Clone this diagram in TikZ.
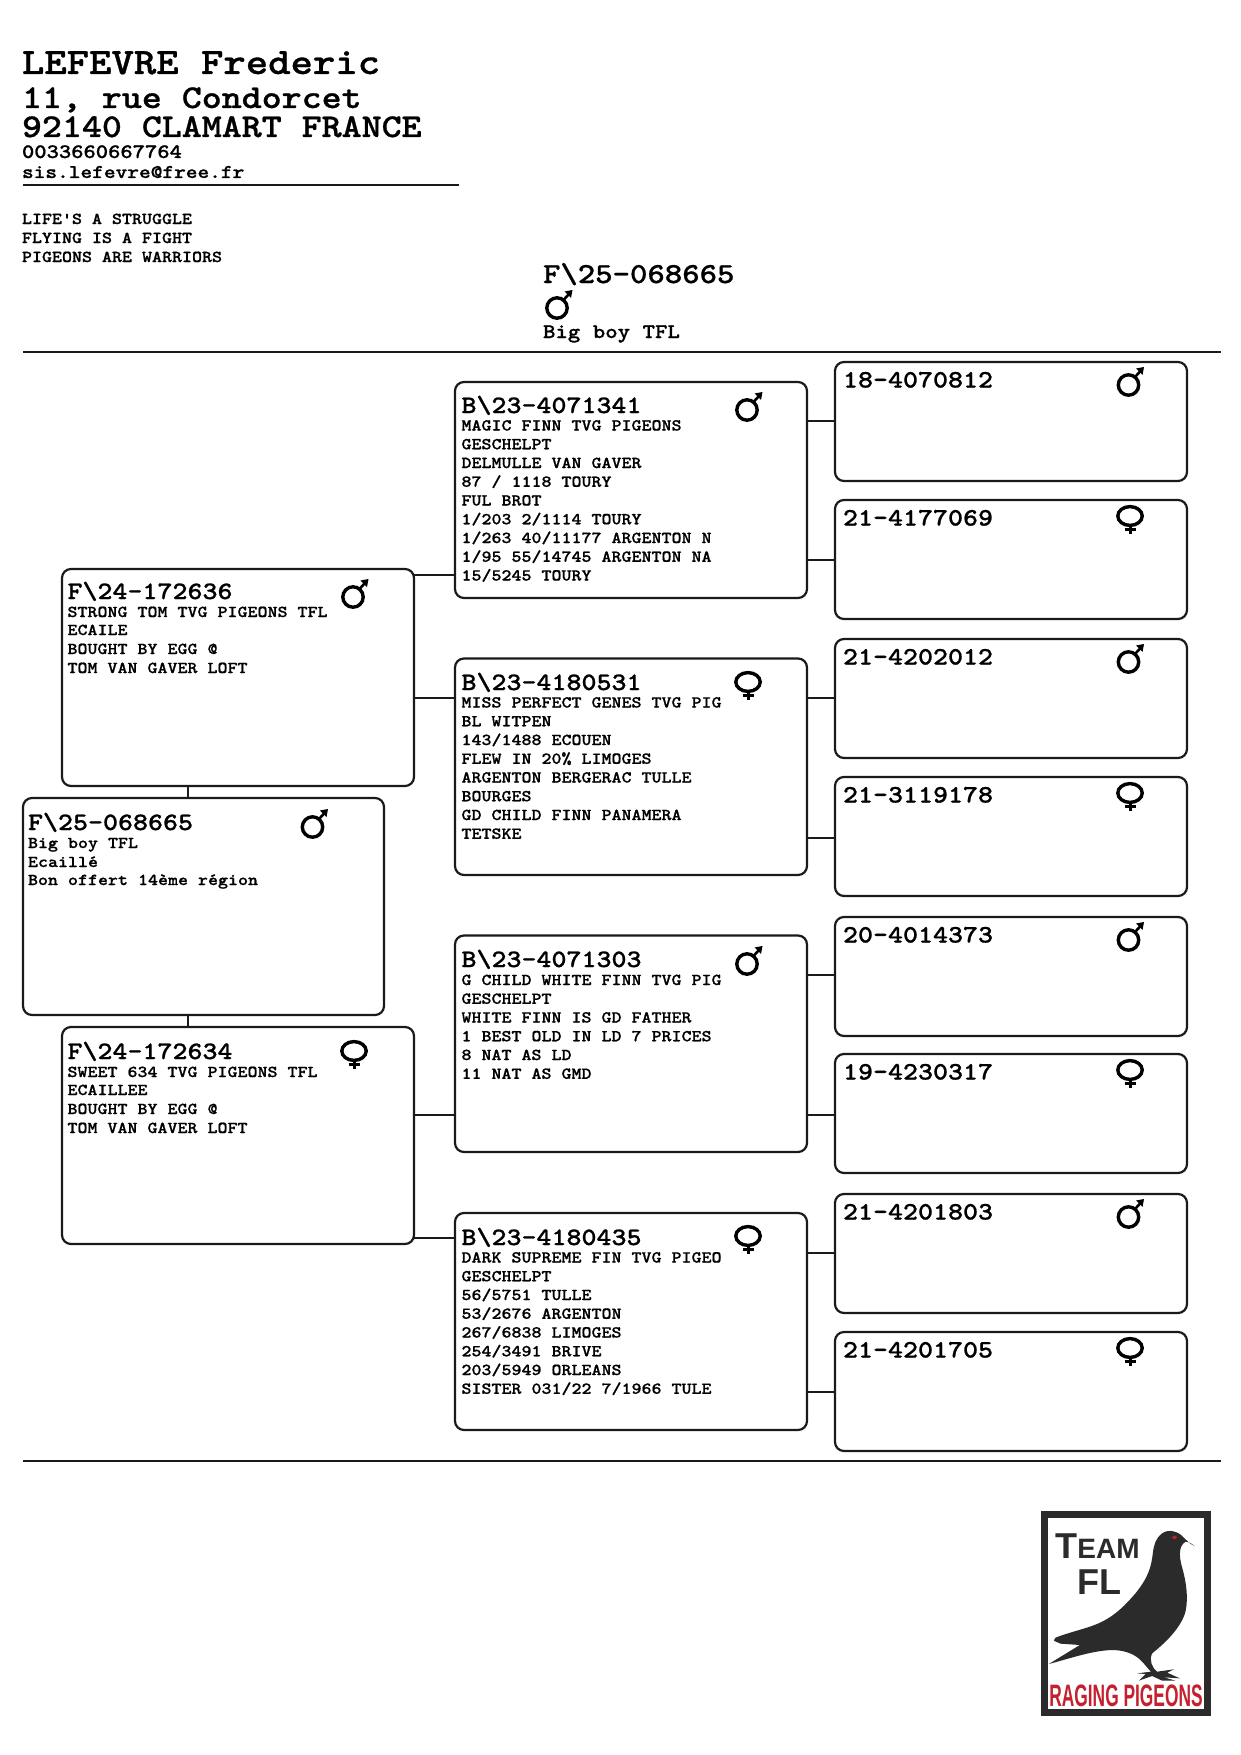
\documentclass[tikz,border=0pt]{standalone}
\usepackage{graphicx}
\usetikzlibrary{calc}
\definecolor{ink}{HTML}{1A1A1A}
\definecolor{logoink}{HTML}{2B2B2B}
\definecolor{logored}{HTML}{C4202E}
\usepackage{fontspec}
\setmainfont{Liberation Sans}
\newfontfamily\pedfont{lmmono10-regular}[Extension=.otf,BoldFont=lmmonolt10-bold,FakeStretch=1.143,BoldFeatures={FakeBold=0.8}]
\newcommand{\fsz}[1]{\fontsize{#1}{#1}\selectfont}
\tikzset{
 box/.style={draw=ink,line width=2.2pt,rounded corners=9pt},
 link/.style={draw=ink,line width=2.2pt},
 rulel/.style={draw=ink,line width=2.4pt},
 txt/.style={anchor=base west,inner sep=0pt,outer sep=0pt,text=black,font=\pedfont\bfseries\fsz{16.67}},
 idtxt/.style={anchor=base west,inner sep=0pt,outer sep=0pt,text=black,font=\pedfont\bfseries\fsz{25}},
 male/.pic={
  \draw[line width=3.4pt,draw=black] (0,0) circle (10.2);
  \draw[line width=2.6pt,draw=black] (6.5,-8) -- (12,-14);
  \fill[black] (15.5,-18) -- (7.5,-16.5) -- (14,-10) -- cycle;
 },
 female/.pic={
  \draw[line width=3.4pt,draw=black] (0,0) ellipse (12.2 and 9.4);
  \draw[line width=3pt,draw=black] (0,9) -- (0,18);
  \draw[line width=2.6pt,draw=black] (-5.5,13.5) -- (5.5,13.5);
 }
}
\begin{document}
\begin{tikzpicture}[x=1pt,y=-1pt]
\useasboundingbox (0,0) rectangle (1241,1755);
\fill[white] (0,0) rectangle (1241,1755);
% header
\node[txt,font=\pedfont\bfseries\fsz{37.3}] (h1) at (22,74) {LEFEVRE Frederic};
\node[txt,font=\pedfont\bfseries\fsz{33.3}] (h2) at (22,108) {11, rue Condorcet};
\node[txt,font=\pedfont\bfseries\fsz{33.3}] (h3) at (22,137) {92140 CLAMART FRANCE};
\node[txt,font=\pedfont\bfseries\fsz{20.5}] (h4) at (22,158) {0033660667764};
\node[txt,font=\pedfont\bfseries\fsz{19.5}] (h5) at (22,178) {sis.lefevre@free.fr};
\draw[rulel] (23,185) -- (459,185);
\node[txt] (m1) at (22,224) {LIFE'S A STRUGGLE};
\node[txt] (m2) at (22,243) {FLYING IS A FIGHT};
\node[txt] (m3) at (22,262) {PIGEONS ARE WARRIORS};
\node[idtxt,font=\pedfont\bfseries\fsz{29}] (t1) at (543,283) {F\textbackslash25-068665};
\pic at (557,308) {male};
\node[txt,font=\pedfont\bfseries\fsz{20.75}] (t2) at (543,338) {Big boy TFL};
\draw[rulel] (23,352) -- (1221,352);
\draw[rulel] (23,1461) -- (1221,1461);
% boxes
\draw[box] (23,798) rectangle (384,1015);
\node[idtxt] at (28,830) {F\textbackslash25-068665};
\pic at (312.5,827) {male};
\node[txt] at (28,848) {Big boy TFL};
\node[txt] at (28,867) {Ecaillé};
\node[txt] at (28,885) {Bon offert 14ème région};
\draw[box] (62,569) rectangle (414,786);
\node[idtxt] at (67.5,599) {F\textbackslash24-172636};
\pic at (353,597) {male};
\node[txt] at (67.5,617) {STRONG TOM TVG PIGEONS TFL};
\node[txt] at (67.5,635) {ECAILE};
\node[txt] at (67.5,654) {BOUGHT BY EGG @};
\node[txt] at (67.5,673) {TOM VAN GAVER LOFT};
\draw[box] (62,1027) rectangle (414,1244);
\node[idtxt] at (67.5,1059) {F\textbackslash24-172634};
\pic at (354,1051) {female};
\node[txt] at (67.5,1077) {SWEET 634 TVG PIGEONS TFL};
\node[txt] at (67.5,1095) {ECAILLEE};
\node[txt] at (67.5,1114) {BOUGHT BY EGG @};
\node[txt] at (67.5,1133) {TOM VAN GAVER LOFT};
\draw[box] (455,382) rectangle (807,598);
\node[idtxt] at (461.5,413) {B\textbackslash23-4071341};
\pic at (747,410) {male};
\foreach \t [count=\i from 0] in {MAGIC FINN TVG PIGEONS,GESCHELPT,DELMULLE VAN GAVER,87 / 1118 TOURY,FUL BROT,1/203 2/1114 TOURY,1/263 40/11177 ARGENTON N,1/95 55/14745 ARGENTON NA,15/5245 TOURY}
  \node[txt] at (461.5,{430.5+18.75*\i}) {\t};
\draw[box] (455,658.5) rectangle (807,875);
\node[idtxt] at (461.5,690) {B\textbackslash23-4180531};
\pic at (748,682) {female};
\foreach \t [count=\i from 0] in {MISS PERFECT GENES TVG PIG,BL WITPEN,143/1488 ECOUEN,FLEW IN 20\% LIMOGES,ARGENTON BERGERAC TULLE,BOURGES,GD CHILD FINN PANAMERA,TETSKE}
  \node[txt] at (461.5,{707.5+18.75*\i}) {\t};
\draw[box] (455,935.5) rectangle (807,1152);
\node[idtxt] at (461.5,967) {B\textbackslash23-4071303};
\pic at (747,964) {male};
\foreach \t [count=\i from 0] in {G CHILD WHITE FINN TVG PIG,GESCHELPT,WHITE FINN IS GD FATHER,1 BEST OLD IN LD 7 PRICES,8 NAT AS LD,11 NAT AS GMD}
  \node[txt] at (461.5,{985+18.75*\i}) {\t};
\draw[box] (455,1213) rectangle (807,1430);
\node[idtxt] at (461.5,1245) {B\textbackslash23-4180435};
\pic at (748,1236) {female};
\foreach \t [count=\i from 0] in {DARK SUPREME FIN TVG PIGEO,GESCHELPT,56/5751 TULLE,53/2676 ARGENTON,267/6838 LIMOGES,254/3491 BRIVE,203/5949 ORLEANS,SISTER 031/22 7/1966 TULE}
  \node[txt] at (461.5,{1262.5+18.75*\i}) {\t};
% generation 3
\foreach \yy/\lab/\sx/\dy/\px in {362/18-4070812/male/23/1128.5,500/21-4177069/female/16/1130,639/21-4202012/male/23/1128.5,777/21-3119178/female/16/1130,917/20-4014373/male/23/1128.5,1054/19-4230317/female/16/1130,1194/21-4201803/male/23/1128.5,1332/21-4201705/female/16/1130}{
  \draw[box] (835,\yy) rectangle (1187,\yy+119);
  \node[idtxt] at (843,\yy+25.5) {\lab};
  \pic at (\px,\yy+\dy) {\sx};
}
% connectors
\coordinate (a1) at (807,421); \coordinate (a2) at (835,421);
\draw[link] (a1) -- (a2);
\draw[link] (807,560) -- (835,560);
\draw[link] (807,698) -- (835,698);
\draw[link] (807,838) -- (835,838);
\draw[link] (807,975) -- (835,975);
\draw[link] (807,1115) -- (835,1115);
\draw[link] (807,1253) -- (835,1253);
\draw[link] (807,1392) -- (835,1392);
\draw[link] (414,575) -- (455,575);
\draw[link] (414,698) -- (455,698);
\draw[link] (414,1115) -- (455,1115);
\draw[link] (414,1238) -- (455,1238);
\draw[link] (188,786) -- (188,798);
\draw[link] (188,1015) -- (188,1027);
% logo
\fill[logoink] (1040.5,1511) rectangle (1210.5,1716);
\fill[white] (1047.5,1518) rectangle (1203.5,1709);
\begin{scope}[shift={(1020.5,1490)},x=0.3333pt,y=-0.3333pt]
\fill[logoink] (522,168) .. controls (505,160) and (498,150) .. (490,143)
 .. controls (475,125) and (445,115) .. (425,130)
 .. controls (405,145) and (400,165) .. (397,190)
 .. controls (392,230) and (385,260) .. (345,310)
 .. controls (315,345) and (285,375) .. (245,395)
 .. controls (205,415) and (150,425) .. (105,443)
 -- (100,452) -- (120,461) -- (178,465) -- (85,522)
 .. controls (150,505) and (220,480) .. (280,480)
 .. controls (320,482) and (345,495) .. (362,512)
 .. controls (375,525) and (385,540) .. (392,545)
 -- (350,550) -- (375,552) -- (355,572) -- (395,558) -- (425,572) -- (465,572) -- (430,562) -- (478,565) -- (440,548) -- (460,538) -- (410,545)
 .. controls (395,535) and (385,510) .. (395,490)
 .. controls (420,470) and (480,420) .. (495,365)
 .. controls (505,320) and (495,270) .. (487,240)
 .. controls (478,210) and (470,170) .. (495,155)
 .. controls (505,155) and (515,162) .. (522,168) -- cycle;
\fill[logored] (462,142) ellipse (7 and 5);
\end{scope}
\node[anchor=base,inner sep=0pt,text=logoink,font=\bfseries\fsz{36}] (l1) at (1097.5,1558) {T\fsz{28}EAM};
\node[anchor=base,inner sep=0pt,text=logoink,font=\bfseries\fsz{36}] (l2) at (1099,1594) {FL};
\node[anchor=base,inner sep=0pt,text=logored,font=\bfseries\fsz{31}] (l3) at (1126,1706) {\scalebox{0.56}[1]{RAGING PIGEONS}};
\end{tikzpicture}
\end{document}
